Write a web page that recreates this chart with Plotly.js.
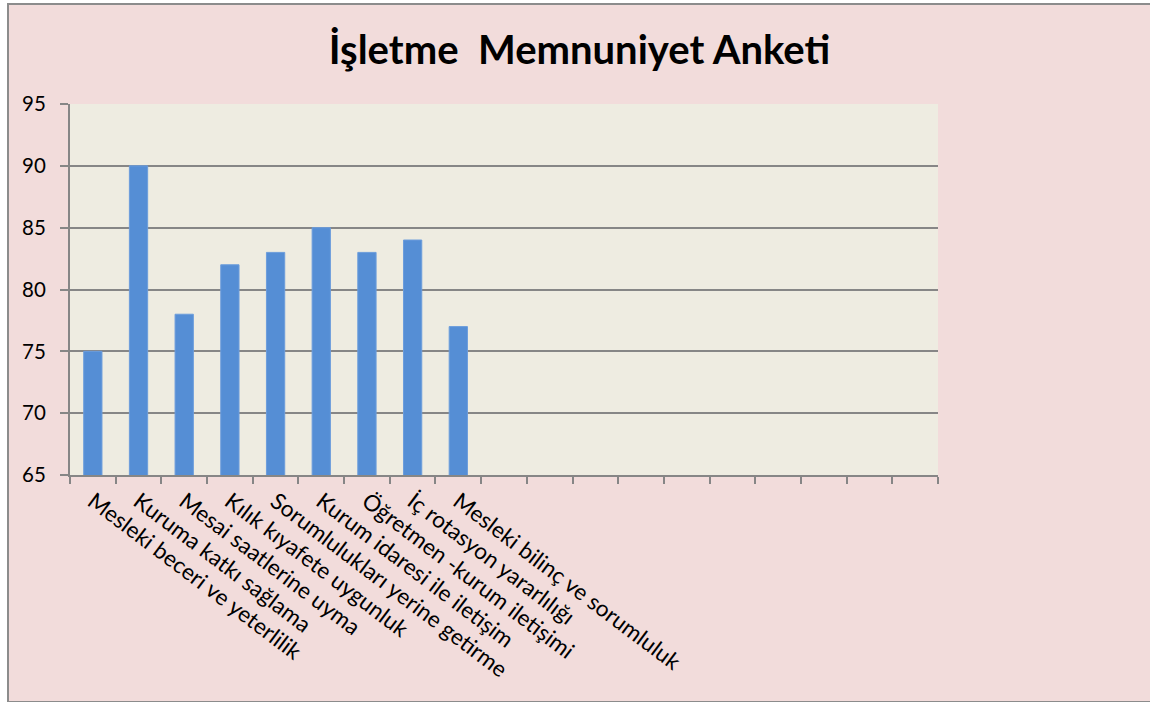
<!DOCTYPE html>
<html>
<head>
<meta charset="utf-8">
<script src="https://cdn.plot.ly/plotly-3.0.1.min.js"></script>
<style>
  html, body { margin: 0; padding: 0; background: #ffffff; overflow: hidden; width: 1150px; height: 702px; }
  #frame { position: absolute; left: 7px; top: 3px; width: 1160px; height: 696px;
           border-left: 2px solid #8c8c8c; border-top: 2px solid #8c8c8c; border-bottom: 2px solid #8c8c8c;
           background: #F2DCDB; }
  #chart { width: 1141px; height: 696px; }
</style>
</head>
<body>
<div id="frame"><div id="chart"></div></div>
<script>
const categories = [
  "Mesleki beceri ve yeterlilik",
  "Kuruma katkı sağlama",
  "Mesai saatlerine uyma",
  "Kılık kıyafete uygunluk",
  "Sorumlulukları yerine getirme",
  "Kurum idaresi ile iletişim",
  "Öğretmen -kurum iletişimi",
  "İç rotasyon yararlılığı",
  "Mesleki bilinç ve sorumluluk"
];
const values = [75, 90, 78, 82, 83, 85, 83, 84, 77];
const totalSlots = 19;
const yTicks = [65, 70, 75, 80, 85, 90, 95];

const idx = categories.map((c, i) => i);
const boundaries = [];
for (let i = 0; i <= totalSlots; i++) boundaries.push(i - 0.5);

const font = "Lato, 'Open Sans', sans-serif";
const grid = "#868686";

const traces = [
  {
    type: "bar",
    x: idx,
    y: values,
    marker: { color: "#558ED5", line: { color: "#6c9ddc", width: 1 } },
    width: 0.4,
    hoverinfo: "skip",
    showlegend: false,
    cliponaxis: true
  },
  {
    type: "scatter", mode: "markers",
    x: [boundaries[0]], y: [65], xaxis: "x2", yaxis: "y",
    marker: { opacity: 0 }, showlegend: false, hoverinfo: "skip"
  }
];

const layout = {
  width: 1141, height: 696,
  paper_bgcolor: "#F2DCDB",
  plot_bgcolor: "#EEECE1",
  margin: { l: 61, r: 212, t: 99, b: 226 },
  title: {
    text: "İşletme&nbsp;&nbsp;Memnuniyet Anketi",
    font: { family: font, size: 40, color: "#000000", weight: "bold" },
    x: 0.5, xanchor: "center", y: 0.935, yanchor: "middle"
  },
  font: { family: font, color: "#000000" },
  xaxis: {
    type: "linear",
    range: [-0.5, totalSlots - 0.5],
    tickvals: idx,
    ticktext: categories,
    tickangle: 37,
    ticks: "",
    ticklabelstandoff: 8,
    tickfont: { family: font, size: 22.5, color: "#000000" },
    showgrid: false, zeroline: false,
    showline: false,
    fixedrange: true
  },
  xaxis2: {
    type: "linear",
    overlaying: "x",
    side: "bottom",
    anchor: "y",
    range: [-0.5, totalSlots - 0.5],
    tickvals: boundaries,
    ticks: "outside", ticklen: 7, tickwidth: 2, tickcolor: grid,
    showticklabels: false,
    showgrid: false, zeroline: false,
    showline: true, linecolor: grid, linewidth: 2,
    fixedrange: true
  },
  yaxis: {
    range: [65, 95],
    tickvals: yTicks,
    ticktext: yTicks.map(String),
    ticks: "outside", ticklen: 8, tickwidth: 2, tickcolor: grid,
    ticklabelstandoff: 10,
    tickfont: { family: font, size: 20.5, color: "#000000" },
    showgrid: true, gridcolor: grid, gridwidth: 2,
    showline: true, linecolor: grid, linewidth: 2,
    zeroline: false,
    fixedrange: true
  },
  bargap: 0.6
};

Plotly.newPlot("chart", traces, layout, { displayModeBar: false, staticPlot: true });
</script>
</body>
</html>
